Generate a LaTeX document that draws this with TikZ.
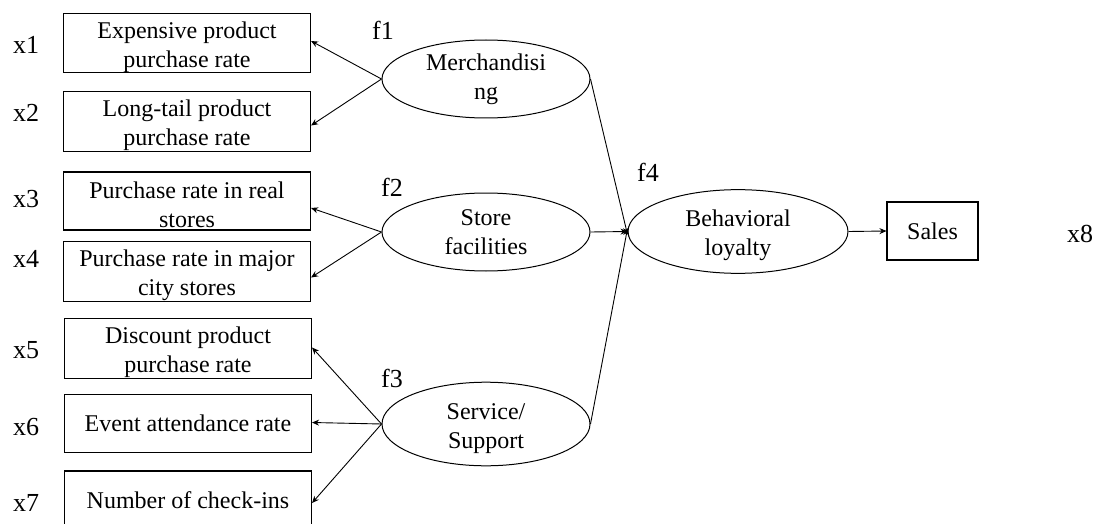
\documentclass[tikz,border=0pt]{standalone}
\usepackage{fontspec}
\setmainfont{Liberation Serif}
\usetikzlibrary{shapes.geometric,arrows.meta}
% extra height on the first of two lines, to set the pair a little lower
\newcommand{\firstline}{\rule{0pt}{25pt}}
\begin{document}
\begin{tikzpicture}[x=1pt,y=-1pt,
  obs/.style={draw,line width=1.1pt,rectangle,minimum width=247pt,minimum height=58pt,
    inner sep=0pt,align=center,font=\fontsize{24}{29}\selectfont},
  lat/.style={draw,line width=1pt,ellipse,minimum width=208pt,minimum height=78pt,
    inner sep=0pt,align=center,font=\fontsize{24}{29}\selectfont},
  tag/.style={inner sep=0pt,font=\fontsize{26}{30}\selectfont},
  link/.style={line width=0.9pt,-{Stealth[length=7pt,width=6pt]}}]
\useasboundingbox (0,0) rectangle (1095,524);

% observed indicators
\node[obs] (o1) at (187,43)    {\firstline Expensive product\\purchase rate};
\node[obs] (o2) at (187,121.5) {\firstline Long-tail product\\purchase rate};
\node[obs] (o3) at (187,201)   {\firstline Purchase rate in real\\stores};
\node[obs] (o4) at (187,271.5) {\firstline Purchase rate in major\\city stores};
\node[obs] (o5) at (188,348.5) {\firstline Discount product\\purchase rate};
\node[obs] (o6) at (188,423.5) {Event attendance rate};
\node[obs] (o7) at (188,500)   {Number of check-ins};
\node[obs,minimum width=91pt] (o8) at (932.5,231) {Sales};

% indicator labels
\node[tag] (t1) at (26,45)  {x1};
\node[tag] (t2) at (26,113) {x2};
\node[tag] (t3) at (26,199) {x3};
\node[tag] (t4) at (26,259) {x4};
\node[tag] (t5) at (26,350) {x5};
\node[tag] (t6) at (26,427) {x6};
\node[tag] (t7) at (26,503) {x7};
\node[tag] (t8) at (1080,234) {x8};

% latent factors
\node[lat] (m) at (486,79)  {Merchandisi\\ng};
\node[lat] (s) at (486,232) {Store\\facilities};
\node[lat] (v) at (486,424) {\firstline Service/\\Support};
\node[lat,minimum width=220pt,minimum height=79pt] (b) at (738,231.5) {\firstline Behavioral\\loyalty};

% factor labels
\node[tag] (f1) at (383,30)  {f1};
\node[tag] (f2) at (392,187) {f2};
\node[tag] (f3) at (392,378) {f3};
\node[tag] (f4) at (648,172) {f4};

% loadings
\draw[link] (m.west) -- ([yshift=2pt]o1.east);
\draw[link] (m.west) -- ([yshift=-4pt]o2.east);
\draw[link] (s.west) -- ([yshift=-7pt]o3.east);
\draw[link] (s.west) -- ([yshift=-6pt]o4.east);
\draw[link] (v.west) -- ([yshift=1pt]o5.east);
\draw[link] (v.west) -- ([yshift=1pt]o6.east);
\draw[link] (v.west) -- ([yshift=-3pt]o7.east);

% structural paths
\draw[link] (m.east) -- ([yshift=-3pt]b.west);
\draw[link] (s.east) -- (b.west);
\draw[link] (v.east) -- ([yshift=3pt]b.west);
\draw[link] (b.east) -- (o8.west);
\end{tikzpicture}
\end{document}
